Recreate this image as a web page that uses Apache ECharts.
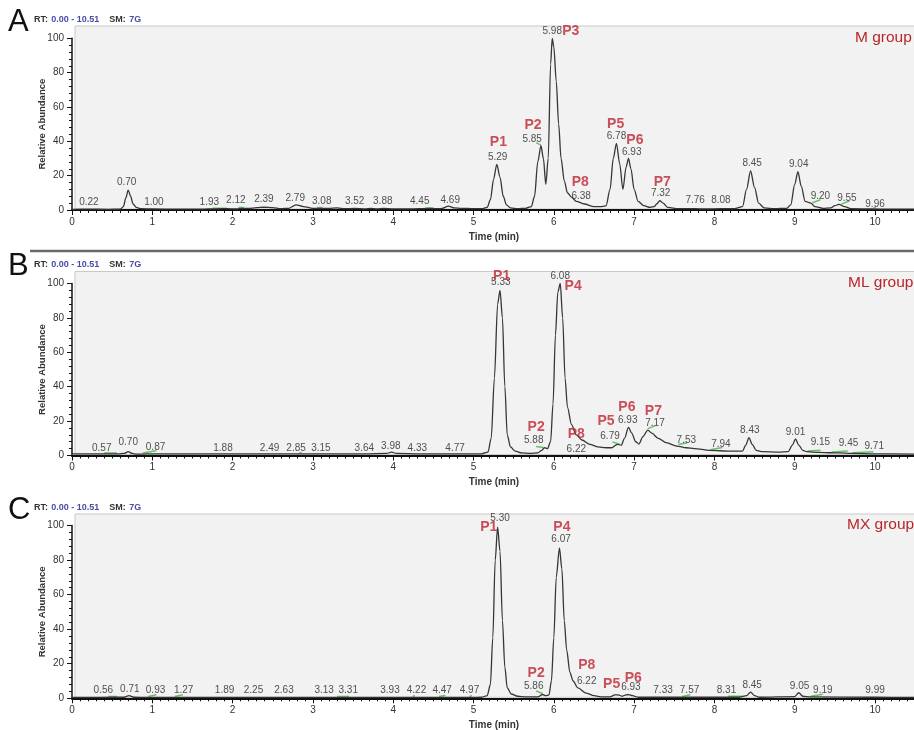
<!DOCTYPE html>
<html><head><meta charset="utf-8">
<script src="https://cdn.jsdelivr.net/npm/echarts/dist/echarts.min.js"></script>
<style>html,body{margin:0;padding:0;background:#fff}#c{width:914px;height:730px}</style>
</head><body><div id="c"></div><script>
// ---- data (retention time in min, relative abundance in %) ----
const panelLetters = ['A', 'B', 'C'];
const groupNames = ['M group', 'ML group', 'MX group'];
const rtRange = [0, 10.51];
const headerText = ['0.00 - 10.51', '7G'];

const traceM = [[0,0.4],[0.22,0.5],[0.45,0.4],[0.6,0.5],[0.64,2],[0.67,7],[0.70,11.6],[0.73,8],[0.76,3.5],[0.80,1.5],[0.86,0.8],[1.0,0.6],[1.3,0.5],[1.6,0.5],[1.8,0.7],[1.93,0.8],[2.05,0.6],[2.12,1.0],[2.2,0.9],[2.3,1.4],[2.39,1.6],[2.5,1.4],[2.6,0.8],[2.7,1.0],[2.79,3.0],[2.88,2.0],[3.0,1.0],[3.08,1.0],[3.2,0.9],[3.3,1.2],[3.4,0.8],[3.52,0.9],[3.65,0.6],[3.72,0.9],[3.8,0.7],[3.88,0.9],[4.0,0.6],[4.2,0.6],[4.45,0.9],[4.6,0.8],[4.69,2.2],[4.76,1.2],[4.85,1.0],[5.0,0.8],[5.1,0.8],[5.17,1.5],[5.21,6],[5.25,18],[5.29,26.6],[5.33,19],[5.37,8],[5.41,3],[5.46,1.2],[5.55,0.8],[5.65,1.0],[5.72,2],[5.76,8],[5.80,28],[5.84,37.5],[5.87,30],[5.90,15],[5.93,30],[5.96,85],[5.98,100],[6.00,95],[6.03,75],[6.06,50],[6.09,30],[6.13,17],[6.17,10],[6.22,7.5],[6.28,5],[6.38,3.5],[6.5,2],[6.6,2],[6.65,2.4],[6.70,12],[6.74,30],[6.78,38.8],[6.82,27],[6.86,12],[6.90,25],[6.93,30],[6.96,24],[7.0,12],[7.05,5],[7.12,2.5],[7.2,1.5],[7.25,2],[7.28,3.5],[7.32,5.4],[7.36,4],[7.42,1.5],[7.55,0.8],[7.76,0.8],[7.9,0.6],[8.08,0.8],[8.25,0.8],[8.35,2],[8.40,12],[8.45,22.7],[8.50,13],[8.55,4],[8.62,1.2],[8.75,0.8],[8.9,1.0],[8.95,3],[9.0,15],[9.04,22.3],[9.08,14],[9.13,5],[9.2,4],[9.25,2],[9.35,1.0],[9.45,1.2],[9.5,2.5],[9.55,3.3],[9.62,2],[9.7,0.8],[9.96,0.6],[10.2,0.5],[10.51,0.5]];

const traceML = [[0,1.0],[0.3,1.0],[0.57,1.0],[0.65,1.2],[0.70,2.2],[0.75,1.2],[0.8,0.8],[0.87,0.8],[1.0,1.0],[1.5,1.0],[1.88,1.0],[2.49,1.0],[2.85,1.0],[3.15,1.0],[3.64,1.0],[3.92,1.2],[3.98,2.0],[4.04,1.2],[4.33,1.0],[4.77,1.0],[5.1,1.0],[5.18,2],[5.22,10],[5.26,45],[5.30,88],[5.33,96],[5.36,80],[5.39,40],[5.42,12],[5.46,5],[5.52,2.5],[5.6,1.5],[5.7,1.2],[5.8,1.5],[5.85,3],[5.88,4.5],[5.92,4],[5.96,8],[5.99,30],[6.02,70],[6.05,95],[6.08,100],[6.11,80],[6.14,45],[6.17,28],[6.22,18],[6.28,12],[6.35,9],[6.45,6.5],[6.55,5],[6.65,4.5],[6.72,4.5],[6.79,6.5],[6.84,6],[6.88,10],[6.93,16.4],[6.97,13],[7.02,8],[7.06,6.7],[7.11,11],[7.17,14.8],[7.22,13],[7.3,10],[7.4,7.5],[7.53,5.5],[7.65,4.5],[7.75,4],[7.94,3],[8.2,2.5],[8.35,2.6],[8.39,6],[8.43,10.4],[8.47,6.5],[8.52,3],[8.6,2.2],[8.8,2],[8.92,2.3],[8.97,6],[9.01,9.6],[9.05,6],[9.1,3],[9.15,2.2],[9.3,1.8],[9.45,1.6],[9.55,1.5],[9.71,1.2],[10,1.0],[10.51,0.8]];

const traceMX = [[0,0.5],[0.56,0.6],[0.65,0.6],[0.71,1.6],[0.77,0.6],[0.93,0.5],[1.27,0.5],[1.89,0.5],[2.25,0.5],[2.63,0.5],[3.13,0.5],[3.31,0.5],[3.93,0.5],[4.22,0.5],[4.47,0.5],[4.97,0.5],[5.1,0.6],[5.17,1.5],[5.21,8],[5.24,35],[5.27,80],[5.30,99],[5.33,85],[5.36,45],[5.39,18],[5.42,6],[5.47,2.5],[5.55,1.2],[5.65,0.8],[5.8,0.8],[5.86,2.2],[5.9,1.5],[5.94,2],[5.97,10],[6.0,35],[6.03,70],[6.07,87],[6.10,75],[6.13,45],[6.16,28],[6.2,15],[6.24,10],[6.3,6],[6.4,3],[6.5,1.5],[6.6,0.8],[6.7,0.8],[6.76,2],[6.8,2],[6.85,1.2],[6.9,2],[6.93,2.1],[6.98,1.5],[7.05,0.6],[7.33,0.6],[7.57,0.6],[8.31,0.6],[8.4,1.5],[8.45,3.6],[8.5,1.5],[8.56,0.6],[9.0,1.0],[9.05,3.2],[9.1,1.2],[9.19,0.8],[9.99,0.6],[10.51,0.5]];

// retention-time annotations: [label centre time, label centre abundance, text]
const rtLabelsM = [[0.21,4.3,'0.22'],[0.68,15.9,'0.70'],[1.02,4.7,'1.00'],[1.71,4.3,'1.93'],[2.04,5.4,'2.12'],[2.39,6.0,'2.39'],[2.78,6.8,'2.79'],[3.11,5.2,'3.08'],[3.52,4.9,'3.52'],[3.87,4.9,'3.88'],[4.33,4.9,'4.45'],[4.71,5.4,'4.69'],[5.30,30.7,'5.29'],[5.73,41.2,'5.85'],[5.98,104.3,'5.98'],[6.34,8.2,'6.38'],[6.78,42.7,'6.78'],[6.97,33.6,'6.93'],[7.33,9.7,'7.32'],[7.76,5.4,'7.76'],[8.08,5.4,'8.08'],[8.47,27.2,'8.45'],[9.05,26.8,'9.04'],[9.32,8.2,'9.20'],[9.65,6.8,'9.55'],[10.0,3.5,'9.96']];
const rtLabelsML = [[0.37,4.2,'0.57'],[0.70,7.8,'0.70'],[1.04,4.8,'0.87'],[1.88,4.2,'1.88'],[2.46,4.2,'2.49'],[2.79,4.2,'2.85'],[3.10,4.2,'3.15'],[3.64,4.2,'3.64'],[3.97,5.5,'3.98'],[4.30,4.2,'4.33'],[4.77,4.5,'4.77'],[5.34,101,'5.33'],[5.75,8.6,'5.88'],[6.08,104.5,'6.08'],[6.28,3.6,'6.22'],[6.70,11.3,'6.79'],[6.92,20.6,'6.93'],[7.26,18.7,'7.17'],[7.65,8.6,'7.53'],[8.08,6.7,'7.94'],[8.44,14.8,'8.43'],[9.01,13.8,'9.01'],[9.32,7.7,'9.15'],[9.67,7.1,'9.45'],[9.99,5.5,'9.71']];
const rtLabelsMX = [[0.39,4.4,'0.56'],[0.72,5.2,'0.71'],[1.04,4.4,'0.93'],[1.39,4.4,'1.27'],[1.90,4.4,'1.89'],[2.26,4.4,'2.25'],[2.64,4.4,'2.63'],[3.14,4.4,'3.13'],[3.44,4.4,'3.31'],[3.96,4.4,'3.93'],[4.29,4.4,'4.22'],[4.61,4.4,'4.47'],[4.95,4.4,'4.97'],[5.33,104.3,'5.30'],[5.75,7.1,'5.86'],[6.09,92.2,'6.07'],[6.41,10.0,'6.22'],[6.96,6.4,'6.93'],[7.36,4.8,'7.33'],[7.69,4.4,'7.57'],[8.15,4.4,'8.31'],[8.47,7.7,'8.45'],[9.06,7.1,'9.05'],[9.35,4.8,'9.19'],[10.0,4.4,'9.99']];

// peak-name annotations: [label centre time, label centre abundance, text]
const peakLabelsM = [[5.31,39.4,'P1'],[5.74,49.5,'P2'],[6.21,104.3,'P3'],[6.33,16.5,'P8'],[6.77,50.1,'P5'],[7.01,40.4,'P6'],[7.35,16.5,'P7']];
const peakLabelsML = [[5.35,104,'P1'],[5.78,16.4,'P2'],[6.24,98.5,'P4'],[6.28,12.5,'P8'],[6.65,19.7,'P5'],[6.91,28.4,'P6'],[7.24,25.5,'P7']];
const peakLabelsMX = [[5.19,98.9,'P1'],[5.78,14.5,'P2'],[6.10,99.1,'P4'],[6.41,19.3,'P8'],[6.72,8.3,'P5'],[6.99,11.9,'P6']];

// green integration-baseline ticks: [start time, start abundance, end time, end abundance]
const baseTicksM = [[1.75,1.0,1.93,1.0],[2.07,1.4,2.14,1.4],[3.05,1.4,3.12,1.4],[4.40,1.2,4.50,1.2],[5.78,39.2,5.84,37.8],[9.22,4.2,9.32,6.0],[9.58,3.4,9.68,5.2],[9.98,1.2,10.01,1.8]];
const baseTicksML = [[0.40,1.4,0.56,1.4],[0.88,1.4,1.05,2.8],[2.83,1.4,2.86,1.8],[5.78,5.2,5.87,4.6],[6.73,7.8,6.82,6.6],[7.17,15.6,7.26,17.2],[7.55,6.4,7.66,7.4],[7.95,3.4,8.10,4.6],[9.16,2.6,9.32,3.0],[9.46,2.0,9.66,2.6],[9.72,1.6,9.98,2.2]];
const baseTicksMX = [[0.45,1.0,0.56,1.0],[0.95,1.0,1.05,2.0],[1.28,1.0,1.38,2.0],[3.30,1.0,3.45,1.0],[4.24,1.0,4.27,1.6],[4.57,1.0,4.65,1.6],[4.95,1.0,4.98,1.6],[5.78,4.2,5.86,2.8],[7.60,1.0,7.70,2.0],[8.17,1.2,8.35,1.2],[9.20,1.2,9.35,2.4]];

// ---- layout ----
const FONT = 'Liberation Sans, Arial, sans-serif';
const panels = [
  {trace: traceM,  rt: rtLabelsM,  pk: peakLabelsM,  gt: baseTicksM,  top: 38.3, h: 171.7, boxTop: 26,  header: 19.5, letter: 24},
  {trace: traceML, rt: rtLabelsML, pk: peakLabelsML, gt: baseTicksML, top: 283.5, h: 172, boxTop: 271.5, header: 265, letter: 268},
  {trace: traceMX, rt: rtLabelsMX, pk: peakLabelsMX, gt: baseTicksMX, top: 525.5, h: 172.8, boxTop: 514, header: 507.5, letter: 512}
];

const grids = [], xAxes = [], yAxes = [], series = [], graphics = [];
panels.forEach((p, i) => {
  graphics.push({type: 'rect', z: -10, shape: {x: 75, y: p.boxTop, width: 840, height: p.top + p.h - p.boxTop - 1},
    style: {fill: '#f2f2f2', stroke: '#c9c9c9', lineWidth: 1}});
  graphics.push({type: 'text', left: 8, top: p.letter - 17, style: {text: panelLetters[i], font: '31px ' + FONT, fill: '#111'}});
  graphics.push({type: 'text', left: 34, top: p.header - 6, style: {
    text: '{k|RT:} {v|' + headerText[0] + '}   {k|SM:} {v|' + headerText[1] + '}',
    rich: {k: {fontSize: 9, fontFamily: FONT, fill: '#333', fontWeight: 'bold'}, v: {fontSize: 9, fontFamily: FONT, fill: '#4a4aa8', fontWeight: 'bold'}}}});
  graphics.push({type: 'text', left: [855, 848, 847][i], top: p.top - 9, style: {text: groupNames[i], font: '15.5px ' + FONT, fill: '#b8262b'}});

  grids.push({left: 72, top: p.top, width: 844, height: p.h, show: false, containLabel: false, outerBoundsMode: 'none'});
  xAxes.push({type: 'value', gridIndex: i, min: rtRange[0], max: rtRange[1], interval: 1,
    name: 'Time (min)', nameLocation: 'middle', nameGap: 22, nameMoveOverlap: false,
    nameTextStyle: {fontFamily: FONT, fontSize: 10, fontWeight: 'bold', color: '#333'},
    axisLine: {show: true, onZero: false, lineStyle: {color: '#111', width: 2}},
    axisTick: {show: true, inside: false, length: 5, lineStyle: {color: '#111', width: 1}},
    minorTick: {show: true, splitNumber: 10, length: 3, lineStyle: {color: '#111', width: 1}},
    axisLabel: {fontFamily: FONT, fontSize: 10, color: '#333', margin: 7, showMaxLabel: false},
    splitLine: {show: false}, minorSplitLine: {show: false}});
  yAxes.push({type: 'value', gridIndex: i, min: 0, max: 100, interval: 20,
    name: 'Relative Abundance', nameLocation: 'middle', nameGap: 25, nameRotate: 90, nameMoveOverlap: false,
    nameTextStyle: {fontFamily: FONT, fontSize: 9.5, fontWeight: 'bold', color: '#333'},
    axisLine: {show: true, lineStyle: {color: '#111', width: 1.5}},
    axisTick: {show: true, length: 5, lineStyle: {color: '#111', width: 1}},
    minorTick: {show: true, splitNumber: 5, length: 3, lineStyle: {color: '#111', width: 1}},
    axisLabel: {fontFamily: FONT, fontSize: 10, color: '#333', margin: 8},
    splitLine: {show: false}, minorSplitLine: {show: false}});
  const green = [];
  p.gt.forEach(s => { green.push([s[0], s[1]], [s[2], s[3]], ['-', '-']); });
  series.push({type: 'line', xAxisIndex: i, yAxisIndex: i, data: green, showSymbol: false, symbol: 'none', connectNulls: false,
    lineStyle: {color: '#66c266', width: 1.5}, z: 2, animation: false, silent: true});
  series.push({type: 'line', xAxisIndex: i, yAxisIndex: i, data: p.trace, showSymbol: false, symbol: 'none',
    smooth: 0.3, smoothMonotone: 'x', lineStyle: {color: '#363636', width: 1.3}, z: 3, animation: false, silent: true});
  series.push({type: 'scatter', xAxisIndex: i, yAxisIndex: i, data: p.rt, symbolSize: 0, clip: false, silent: true, animation: false,
    label: {show: true, position: 'inside', formatter: d => d.data[2], fontFamily: FONT, fontSize: 10, color: '#262626'}, z: 4});
  series.push({type: 'scatter', xAxisIndex: i, yAxisIndex: i, data: p.pk, symbolSize: 0, clip: false, silent: true, animation: false,
    label: {show: true, position: 'inside', formatter: d => d.data[2], fontFamily: FONT, fontSize: 14, fontWeight: 'bold', color: '#bf2430'}, z: 5});
});
graphics.push({type: 'line', shape: {x1: 30, y1: 251, x2: 914, y2: 251}, style: {stroke: '#6a6a6a', lineWidth: 2.5}});

const chart = echarts.init(document.getElementById('c'), null, {renderer: 'canvas'});
chart.setOption({animation: false, backgroundColor: '#fff', grid: grids, xAxis: xAxes, yAxis: yAxes, series: series, graphic: graphics});
</script></body></html>
